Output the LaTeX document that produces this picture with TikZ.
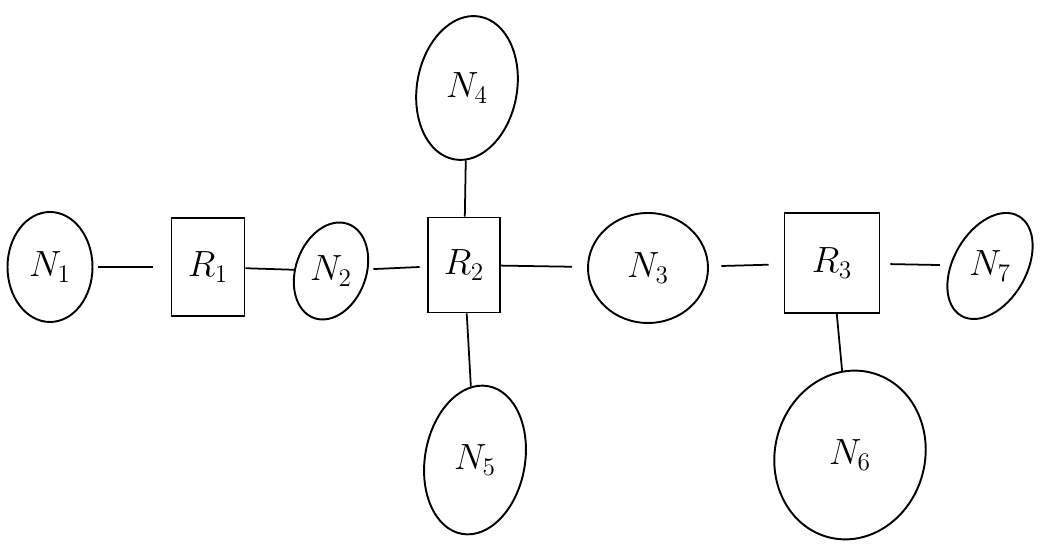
\documentclass[tikz,border=0pt]{standalone}
\usepackage{tikz}
\usetikzlibrary{shapes.geometric}

\begin{document}
\begin{tikzpicture}[font=\fontsize{22}{24}\selectfont, line width=1.1pt,
      net/.style={draw, ellipse, inner sep=0pt},
      rtr/.style={draw, rectangle, inner sep=0pt},
      lnk/.style={draw, line width=1pt}]

      \useasboundingbox (0,0) rectangle (20.98,10.92);

      \node[net, minimum width=1.7cm, minimum height=2.2cm] (n1) at (1.0,5.58) {$N_1$};
      \node[rtr, minimum width=1.46cm, minimum height=1.96cm] (r1) at (4.16,5.58) {$R_1$};
      \node[net, minimum width=1.1cm, minimum height=2.0cm, rotate=-20] (n2) at (6.62,5.5) {\rotatebox{20}{$N_2$}};
      \node[rtr, minimum width=1.44cm, minimum height=1.9cm] (r2) at (9.28,5.62) {$R_2$};
      \node[net, minimum width=2.0cm, minimum height=2.9cm, rotate=-10] (n4) at (9.34,9.16) {\rotatebox{10}{$N_4$}};
      \node[net, minimum width=2.0cm, minimum height=3.0cm, rotate=-10] (n5) at (9.5,1.72) {\rotatebox{10}{$N_5$}};
      \node[net, minimum width=2.4cm, minimum height=2.2cm] (n3) at (12.96,5.56) {$N_3$};
      \node[rtr, minimum width=1.9cm, minimum height=2.0cm] (r3) at (16.64,5.66) {$R_3$};
      \node[net, minimum width=1.2cm, minimum height=2.3cm, rotate=-30] (n7) at (19.8,5.6) {\rotatebox{30}{$N_7$}};
      \node[net, minimum width=3.0cm, minimum height=3.4cm, rotate=-15] (n6) at (17.0,1.82) {\rotatebox{15}{$N_6$}};

      \draw[lnk, shorten <=0.1cm, shorten >=0.35cm] (n1)--(r1); \draw[lnk] (r1)--(n2); \draw[lnk, shorten <=0.1cm, shorten >=0.15cm] (n2)--(r2);
      \draw[lnk, shorten >=0.3cm] (r2)--(n3); \draw[lnk, shorten <=0.25cm, shorten >=0.3cm] (n3)--(r3); \draw[lnk, shorten <=0.2cm, shorten >=0.2cm] (r3)--(n7);
      \draw[lnk] (r2)--(n4); \draw[lnk] (r2)--(n5); \draw[lnk] (r3)--(n6);
    \end{tikzpicture}
\end{document}
